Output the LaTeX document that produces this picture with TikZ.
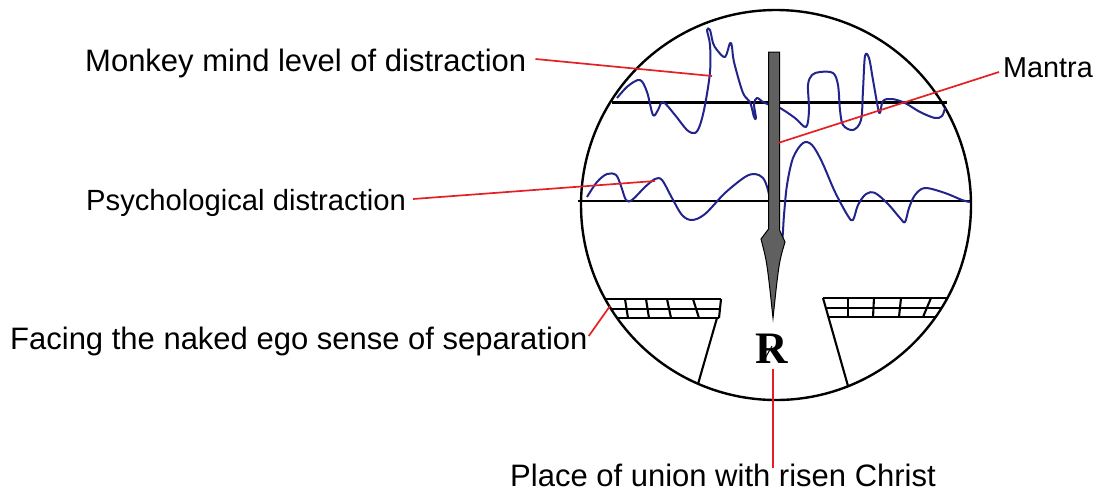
\documentclass[tikz,border=0pt]{standalone}
\usepackage{fontspec}
\setmainfont{Liberation Sans}
\newfontfamily\rxfont{Liberation Serif}
\usetikzlibrary{calc}
\definecolor{wavec}{RGB}{35,35,140}
\definecolor{redc}{RGB}{228,32,36}
\definecolor{shaftc}{RGB}{96,96,96}
\begin{document}
\begin{tikzpicture}[x=1pt,y=-1pt,
  lbl/.style={anchor=base west, inner sep=0pt},
  redline/.style={draw=redc, line width=1.7pt},
  wave/.style={draw=wavec, line width=2pt, line join=round},
  rail/.style={draw=black, line width=2.1pt},
  ring/.style={draw=black, line width=2.4pt}]
\useasboundingbox (0,0) rectangle (1100,493);

% circle and level lines
\draw[ring] (776,205) circle[radius=195pt];
\draw[rail] (612,102.5) -- (947,102.5);
\draw[rail] (578,201) -- (972,201);

% waves
\draw[wave] plot[smooth, tension=0.55] coordinates {
 (617,98) (628,86) (640,80) (647,92) (653,115) (658,110) (663,102) (675,115) (687,130) (695,133)
 (700,125) (705,105) (710,72) (710,45) (707,30) (710,30) (713,43) (717,50) (725,57) (730,43)
 (732,47) (734,62) (743,93) (750,102) (754,117) (756,118) (754,104) (757,98) (763,102) (770,105)
 (780,108) (795,118) (806,127) (809,110) (808,85) (812,75) (820,72) (833,73) (838,85) (840,110)
 (843,125) (853,130) (861,120) (863,90) (865,56) (869,58) (873,80) (878,108) (880,113) (883,101)
 (892,99) (905,103) (920,112) (935,118) (942,116) (945,108)};
\draw[wave] plot[smooth, tension=0.55] coordinates {
 (587,197) (597,182) (607,174) (616,175) (621,186) (626,200) (632,200) (645,187) (655,179) (662,180)
 (672,198) (682,215) (692,220) (705,214) (725,193) (745,177) (755,174) (763,178) (768,190) (772,210)
 (778,228) (782,240) (784,215) (787,185) (793,158) (803,143) (812,145) (822,162) (835,192) (848,216)
 (853,220) (858,205) (866,194) (875,193) (888,204) (900,218) (905,222) (909,208) (915,195) (925,188)
 (945,193) (962,200) (970,202)};

% mantra arrow
\draw[fill=shaftc, draw=black, line width=1pt, line join=miter]
  (768.5,52) -- (779.5,52) -- (779.5,230) -- (785,242) .. controls (779,262) .. (773,318)
  .. controls (767,262) .. (761,239) -- (768.5,229) -- cycle;

% left platform
\draw[rail] (605,299) -- (721,299);
\draw[rail] (611,309) -- (720,309);
\draw[rail] (617,318) -- (719,318);
\draw[rail] (721,299) -- (719,318);
\draw[rail] (717,318) -- (698,384);
\draw[rail] (625,299) -- (628,318);
\draw[rail] (646,299) -- (649,318);
\draw[rail] (667,299) -- (671,318);
\draw[rail] (693,299) -- (699,318);

% right platform
\draw[rail] (823,298) -- (947,298);
\draw[rail] (826,308) -- (942,308);
\draw[rail] (829,317) -- (936,317);
\draw[rail] (823,298) -- (848,386);
\draw[rail] (848,298) -- (848,317);
\draw[rail] (874,298) -- (873,317);
\draw[rail] (901,298) -- (899,317);
\draw[rail] (931,298) -- (923,317);

% R sign
\node[anchor=base, inner sep=0pt, font=\rxfont\bfseries\fontsize{45}{45}\selectfont] (R) at (772,363) {R};
\draw[black, line width=1pt] (772,346) -- (763,362);

% labels
\node[lbl, font=\fontsize{31}{31}\selectfont] (monkey) at (85,71) {Monkey mind level of distraction};
\node[lbl, font=\fontsize{28.8}{28.8}\selectfont] (mantra) at (1003,77) {Mantra};
\node[lbl, font=\fontsize{29.2}{29.2}\selectfont] (psych) at (86,210) {Psychological distraction};
\node[lbl, font=\fontsize{31}{31}\selectfont] (facing) at (10,349) {Facing the naked ego sense of separation};
\node[lbl, font=\fontsize{31}{31}\selectfont] (place) at (510,486) {Place of union with risen Christ};

% leader lines
\coordinate (monkeyTip) at (712,76);
\coordinate (mantraTip) at (778,143);
\coordinate (psychTip) at (655,181);
\coordinate (facingTip) at (610,306);
\coordinate (placeTip) at (773,468);
\draw[redline] ($(monkey.base east)+(9,-12)$) -- (monkeyTip);
\draw[redline] ($(mantra.base west)+(-4,-5)$) -- (mantraTip);
\draw[redline] ($(psych.base east)+(7,-11)$) -- (psychTip);
\draw[redline] ($(facing.base east)+(1,-13)$) -- (facingTip);
\draw[redline] ([xshift=1pt,yshift=-6pt]R.south) -- (placeTip);
\end{tikzpicture}
\end{document}
